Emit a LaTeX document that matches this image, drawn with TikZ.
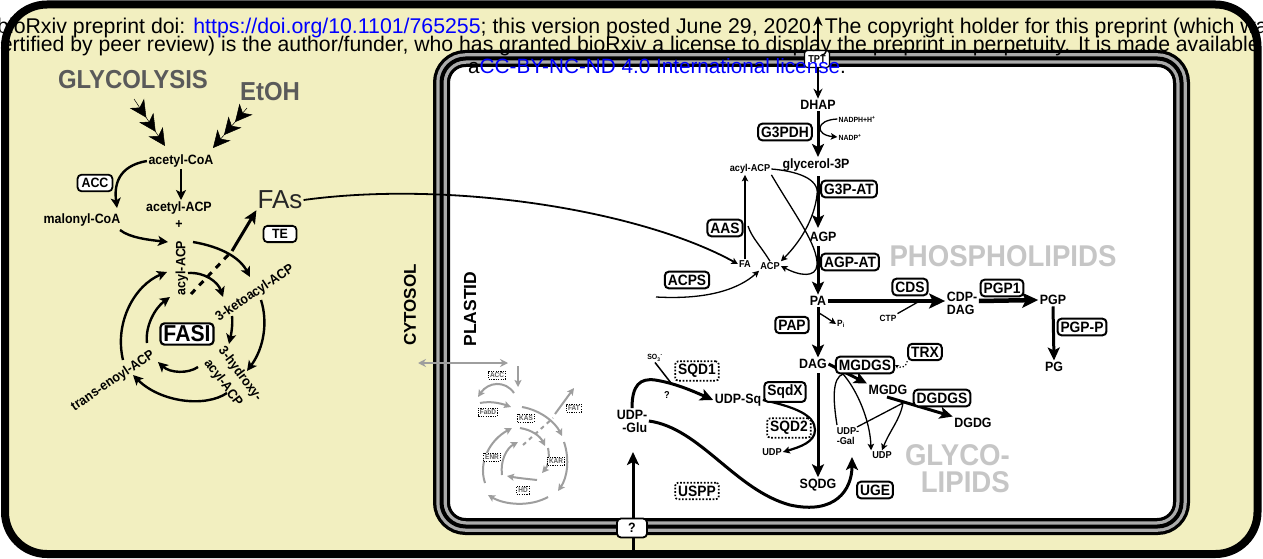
\documentclass[tikz,border=0pt]{standalone}
\usepackage{fontspec}
\setmainfont{Liberation Sans}
\newfontfamily\lab[FakeStretch=0.92]{Liberation Sans}
\usetikzlibrary{arrows.meta,calc}
\definecolor{cyto}{HTML}{F2EFC0}
\definecolor{memgrey}{HTML}{ABABAB}
\definecolor{dgrey}{HTML}{5A5A5A}
\definecolor{lgrey}{HTML}{C6C6C6}
\definecolor{fgrey}{HTML}{9E9E9E}
\definecolor{linkblue}{HTML}{0000FF}
\pgfdeclarelayer{back}
\pgfdeclarelayer{conn}
\pgfdeclarelayer{front}
\pgfsetlayers{back,conn,main,front}
\tikzset{
  lbl/.style={font=\lab\bfseries\fontsize{13.5}{13}\selectfont, inner sep=1.5pt},
  slbl/.style={font=\lab\bfseries\fontsize{10}{10}\selectfont, inner sep=1pt},
  tlbl/.style={font=\lab\bfseries\fontsize{7.5}{8}\selectfont, inner sep=1pt},
  biglbl/.style={font=\lab\bfseries\fontsize{26}{26}\selectfont, text=dgrey, inner sep=0pt},
  ghost/.style={font=\lab\bfseries\fontsize{30}{27}\selectfont, text=lgrey, inner sep=0pt},
  enz/.style={draw, line width=2pt, rounded corners=4pt, fill=white, font=\lab\bfseries\fontsize{15}{15}\selectfont, inner xsep=3pt, inner ysep=3pt},
  enzs/.style={enz, line width=1.8pt, font=\lab\bfseries\fontsize{13.5}{13}\selectfont, inner xsep=4pt, inner ysep=3.5pt},
  denz/.style={draw, line width=1.7pt, dash pattern=on 1.7pt off 1.7pt, rounded corners=3pt, fill=white, font=\lab\bfseries\fontsize{15}{15}\selectfont, inner xsep=3pt, inner ysep=3pt},
  genz/.style={draw=black, line width=0.8pt, dash pattern=on 1.2pt off 1.2pt, fill=white, font=\lab\bfseries\fontsize{7}{7}\selectfont, text=dgrey, inner sep=1.5pt},
  bigarr/.style={line width=3pt, -{Stealth[length=13pt,width=12pt,inset=3pt]}},
  hugearr/.style={line width=4.5pt, -{Stealth[length=16pt,width=15pt,inset=3.5pt]}},
  medarr/.style={line width=2.4pt, -{Stealth[length=10pt,width=10pt,inset=2.5pt]}},
  thinarr/.style={line width=1.3pt, -{Stealth[length=6.5pt,width=6.5pt,inset=1.5pt]}},
  garr/.style={fgrey, line width=2pt, -{Stealth[length=7pt,width=7pt,inset=1.5pt]}},
  triple/.style={line width=0.5pt, -{Stealth[length=17pt,width=17pt,inset=5pt,sep=0pt]Stealth[length=17pt,width=17pt,inset=5pt,sep=0pt]Stealth[length=17pt,width=17pt,inset=5pt]}},
  membr/.style={rounded corners=24pt},
}
\begin{document}
\begin{tikzpicture}[x=1pt,y=-1pt]
\useasboundingbox (0,0) rectangle (1263,559);

% ---------------- background: cell and plastid ----------------
\begin{pgfonlayer}{back}
  \draw[line width=8pt, fill=cyto, rounded corners=42pt] (5,4.5) rectangle (1257.5,554);
  \fill[white, membr] (441.5,58.5) rectangle (1181.5,526.5);
  \draw[black, line width=17pt, membr] (441.5,58.5) rectangle (1181.5,526.5);
  \draw[memgrey, line width=10.5pt, membr] (441.5,58.5) rectangle (1181.5,526.5);
  \draw[black, line width=4pt, membr] (441.5,58.5) rectangle (1181.5,526.5);
\end{pgfonlayer}

% ---------------- cytosol nodes ----------------
\node[biglbl] (glyc) at (133,80) {GLYCOLYSIS};
\node[biglbl] (etoh) at (270,92) {EtOH};
\node[lbl] (acoa) at (181,161) {acetyl-CoA};
\node[lbl] (aacp) at (179,208) {acetyl-ACP};
\node[lbl] (plus) at (179,225) {+};
\node[enzs] (acc) at (95,183) {ACC};
\node[lbl] (mcoa) at (82,220) {malonyl-CoA};
\node[lbl, rotate=90] (acyl) at (182,268) {acyl-ACP};
\node[lbl, rotate=34] (keto) at (255,293) {3-ketoacyl-ACP};
\node[lbl, rotate=-53] (hyd1) at (240,374) {3-hydroxy-};
\node[lbl, rotate=-53] (hyd2) at (223,383) {acyl-ACP};
\node[lbl, rotate=34] (enoyl) at (113,381) {trans-enoyl-ACP};
\node[enz, line width=2.2pt, font=\lab\bfseries\fontsize{23}{23}\selectfont, inner xsep=3pt, inner ysep=2.5pt] (fasi) at (187,334) {FASI};
\node[font=\fontsize{26}{26}\selectfont, text=black!85, inner sep=1pt] (fas) at (280,200) {FAs};
\node[enzs, minimum width=33pt] (te) at (280,234) {TE};

\node[font=\fontsize{17}{17}\selectfont\bfseries, rotate=90, inner sep=0pt] (cytosol) at (410,305) {CYTOSOL};
\node[font=\fontsize{17.5}{17}\selectfont\bfseries, rotate=90, inner sep=0pt] (plastid) at (470,309) {PLASTID};

% ---------------- grey plastid FAS ----------------
\node[genz] (gacc) at (497,375) {ACC};
\node[genz] (gfabd) at (488,412) {FabD};
\node[genz] (gkas) at (526,418) {KAS};
\node[genz] (gfat) at (574,408) {FAT};
\node[genz] (genr) at (492,457) {ENR};
\node[genz] (gkar) at (556,461) {KAR};
\node[genz] (ghd) at (523,490) {HD};

% ---------------- plastid nodes ----------------
\node[draw, line width=1.2pt, rounded corners=3pt, fill=white, font=\lab\bfseries\fontsize{10}{10}\selectfont, inner sep=2pt, minimum width=25pt, minimum height=17pt] (tpt) at (817,59) {TPT};
\node[lbl] (dhap) at (818,105) {DHAP};
\node[enz] (g3pdh) at (785,132) {G3PDH};
\node[tlbl] (nadph) at (857,119) {NADPH+H\textsuperscript{+}};
\node[tlbl] (nadp) at (850,137) {NADP\textsuperscript{+}};
\node[lbl] (g3p) at (816,165) {glycerol-3P};
\node[slbl] (acylacp) at (750,169) {acyl-ACP};
\node[enz] (g3pat) at (849,189) {G3P-AT};
\node[lbl] (agp) at (823,237) {AGP};
\node[enz] (agpat) at (850,262) {AGP-AT};
\node[slbl] (fa) at (745,264) {FA};
\node[slbl] (acp) at (770,266) {ACP};
\node[enz] (aas) at (725,228) {AAS};
\node[enz] (acps) at (687,280) {ACPS};
\node[lbl] (pa) at (818,301) {PA};
\node[enz] (cds) at (910,287) {CDS};
\node[tlbl, font=\lab\bfseries\fontsize{9}{9}\selectfont] (ctp) at (888,318) {CTP};
\node[lbl, align=left] (cdpdag) at (962,303) {CDP-\\DAG};
\node[enz] (pgp1) at (1002,288) {PGP1};
\node[lbl] (pgp) at (1053,300) {PGP};
\node[enz] (pgpp) at (1082,327) {PGP-P};
\node[lbl] (pg) at (1054,367) {PG};
\node[enz] (pap) at (792,325) {PAP};
\node[tlbl, font=\lab\bfseries\fontsize{9}{9}\selectfont] (pi) at (841,324) {P\textsubscript{i}};
\node[lbl] (dag) at (813,364) {DAG};
\node[enz] (mgdgs) at (865,365) {MGDGS};
\node[enz] (trx) at (925,352) {TRX};
\node[lbl] (mgdg) at (888,390) {MGDG};
\node[enz] (dgdgs) at (942,398) {DGDGS};
\node[lbl] (dgdg) at (973,423) {DGDG};
\node[slbl, align=left] (udpgal) at (848,436) {UDP-\\-Gal};
\node[slbl] (udpa) at (882,455) {UDP};
\node[lbl] (sqdg) at (818,485) {SQDG};
\node[enz] (uge) at (875,490) {UGE};
\node[enz] (sqdx) at (785,392) {SqdX};
\node[lbl] (udpsq) at (738,400) {UDP-Sq};
\node[denz] (sqd1) at (697,371) {SQD1};
\node[tlbl] (so3) at (655,358) {SO\textsubscript{3}\textsuperscript{-}};
\node[slbl] (qm) at (667,395) {?};
\node[denz] (sqd2) at (789,428) {SQD2};
\node[slbl] (udpb) at (772,452) {UDP};
\node[lbl, align=right] (udpglu) at (632,421) {UDP-\\-Glu};
\node[denz] (uspp) at (697,491) {USPP};
\node[enzs, minimum width=30pt, minimum height=19pt, inner sep=1pt] (qbox) at (632,528) {?};

\node[ghost] (phospho) at (1003,256) {PHOSPHOLIPIDS};
\node[ghost, align=right, anchor=east] (glyco) at (1010,469) {GLYCO-\\LIPIDS};

% ---------------- connectors ----------------
\begin{pgfonlayer}{conn}
  % cytosol
  \draw[triple] (134,99) -- (165,146);
  \draw[triple] (247,108) -- (213,148);
  \draw[medarr] (acoa.south) -- (acoa.south |- aacp.north);
  \draw[medarr] (acoa.west) .. controls (118,166) and (114,185) .. (117,208);
  \draw[medarr] (120,230) .. controls (130,238) and (150,240) .. (168,242);
  \draw[medarr] (193,242) .. controls (222,247) and (240,258) .. (250,277);
  \draw[medarr] (261,300) .. controls (268,322) and (264,348) .. (247,371);
  \draw[medarr] (227,393) .. controls (205,408) and (160,402) .. (133,375);
  \draw[medarr] (123,360) .. controls (114,322) and (135,285) .. (167,272);
  \draw[medarr] (188,273) .. controls (205,272) and (218,282) .. (223,297);
  \draw[medarr] (232,316) .. controls (233,325) and (231,335) .. (229,344);
  \draw[medarr] (198,367) .. controls (188,374) and (170,373) .. (158,362);
  \draw[medarr] (147,343) .. controls (145,326) and (155,308) .. (170,297);
  \draw[line width=3pt, dash pattern=on 6pt off 6pt] (191,294) -- (232,251);
  \draw[bigarr] (232,251) -- (fas.south west);
  \draw[thinarr, line width=1.8pt] (fas.east) .. controls (450,180) and (640,210) .. (fa.west);
  % grey FAS
  \draw[fgrey, line width=2pt, {Stealth[length=8pt,width=8pt]}-{Stealth[length=8pt,width=8pt]}] (418,363) -- (508,363);
  \draw[garr] (518,366) -- (518,387);
  \draw[garr] (514,393) .. controls (505,380) and (488,382) .. (478,397);
  \draw[garr] (480,403) .. controls (490,401) and (500,403) .. (511,407);
  \draw[garr] (522,407) .. controls (540,410) and (555,422) .. (562,436);
  \draw[garr] (520,428) .. controls (532,430) and (540,436) .. (545,446);
  \draw[garr] (555,414) -- (574,388);
  \draw[fgrey, line width=2pt, dash pattern=on 4pt off 4pt] (523,445) -- (553,418);
  \draw[garr] (564,442) .. controls (570,460) and (567,478) .. (558,491);
  \draw[garr] (548,448) .. controls (550,458) and (548,466) .. (542,473);
  \draw[garr] (548,497) .. controls (530,507) and (505,505) .. (488,495);
  \draw[garr] (537,480) .. controls (528,479) and (518,478) .. (507,476);
  \draw[garr] (485,483) .. controls (478,462) and (490,440) .. (512,428);
  \draw[garr] (502,475) .. controls (500,460) and (507,448) .. (518,442);
  % plastid glycerolipid pathway
  \draw[line width=2.2pt, {Stealth[length=10pt,width=9pt]}-{Stealth[length=10pt,width=9pt]}] (818,16) -- (dhap.north);
  \draw[bigarr] (dhap.south) -- (dhap.south |- g3p.north);
  \draw[thinarr] (nadph.west) .. controls (815,120) and (815,135) .. (nadp.west);
  \draw[bigarr] (818,176) -- (818,228);
  \draw[thinarr] (acylacp.east) .. controls (795,171) and (820,178) .. (817,195) .. controls (814,220) and (800,242) .. (acp.north east);
  \draw[thinarr] (acylacp.south east) .. controls (795,215) and (818,245) .. (817,265) .. controls (816,278) and (800,276) .. (acp.east);
  \draw[thinarr] (fa.north) -- (fa.north |- acylacp.south);
  \draw[line width=1.3pt] (acp.north) .. controls (760,245) and (752,238) .. (748,226);
  \draw[thinarr] (656,297) .. controls (710,300) and (740,288) .. (acp.south west);
  \draw[bigarr] (818,246) -- (pa.north);
  \draw[hugearr] (pa.east) -- (cdpdag.west |- pa.east);
  \draw[line width=1.3pt] (ctp.north east) -- (918,302);
  \draw[hugearr] (cdpdag.east |- pa.east) -- (pgp.west);
  \draw[bigarr] (pgp.south) -- (pg.north);
  \draw[bigarr] (pa.south) -- (pa.south |- dag.north);
  \draw[thinarr] (819,313) .. controls (824,316) .. (pi.west);
  \draw[bigarr] (dag.east) -- (mgdg.north west);
  \draw[bigarr] (887,397) -- (dgdg.north west);
  \draw[line width=1.2pt, dotted, -{Stealth[length=4pt,width=4pt]}] (trx.south west) .. controls (906,368) and (900,368) .. (mgdgs.east);
  \draw[thinarr] (837,425) .. controls (833,400) and (832,378) .. (843,374) .. controls (857,390) and (870,420) .. (udpa.north west);
  \draw[thinarr] (857,427) -- (903,403) .. controls (900,420) and (890,430) .. (udpa.north);
  \draw[bigarr] (818,373) -- (sqdg.north);
  \draw[bigarr] (udpglu.north) .. controls (632,385) and (640,378) .. (655,380) .. controls (675,383) and (695,392) .. (udpsq.west);
  \draw[line width=1.5pt] (so3.south) -- (671,383);
  \draw[line width=2.2pt, -{Stealth[length=7pt,width=7pt,inset=1.5pt]}] (udpsq.east) .. controls (795,407) and (815,415) .. (815,430) .. controls (815,442) and (800,447) .. (udpb.east);
  \draw[bigarr] (udpglu.east) .. controls (700,428) and (735,490) .. (790,505) .. controls (835,515) and (852,490) .. (852,457);
  \draw[bigarr] (633,553) -- (633,452);
\end{pgfonlayer}

% ---------------- watermark header ----------------
\begin{pgfonlayer}{front}
  \begin{scope}
    \clip (0,0) rectangle (1263,559);
    \node[anchor=base west, inner sep=0pt, font=\fontsize{21.3}{21}\selectfont] (hdr1) at (-3,34) {bioRxiv preprint doi: \textcolor{linkblue}{https://doi.org/10.1101/765255}; this version posted June 29, 2020. The copyright holder for this preprint (which was};
    \node[anchor=base east, inner sep=0pt, font=\fontsize{21.2}{21}\selectfont] (hdr2) at (1260,52) {certified by peer review) is the author/funder, who has granted bioRxiv a license to display the preprint in perpetuity. It is made available};
    \node[anchor=base west, inner sep=0pt, font=\fontsize{20.7}{21}\selectfont] (hdr3) at (468,74) {a\textcolor{linkblue}{CC-BY-NC-ND 4.0 International license}.};
  \end{scope}
\end{pgfonlayer}
\end{tikzpicture}
\end{document}
